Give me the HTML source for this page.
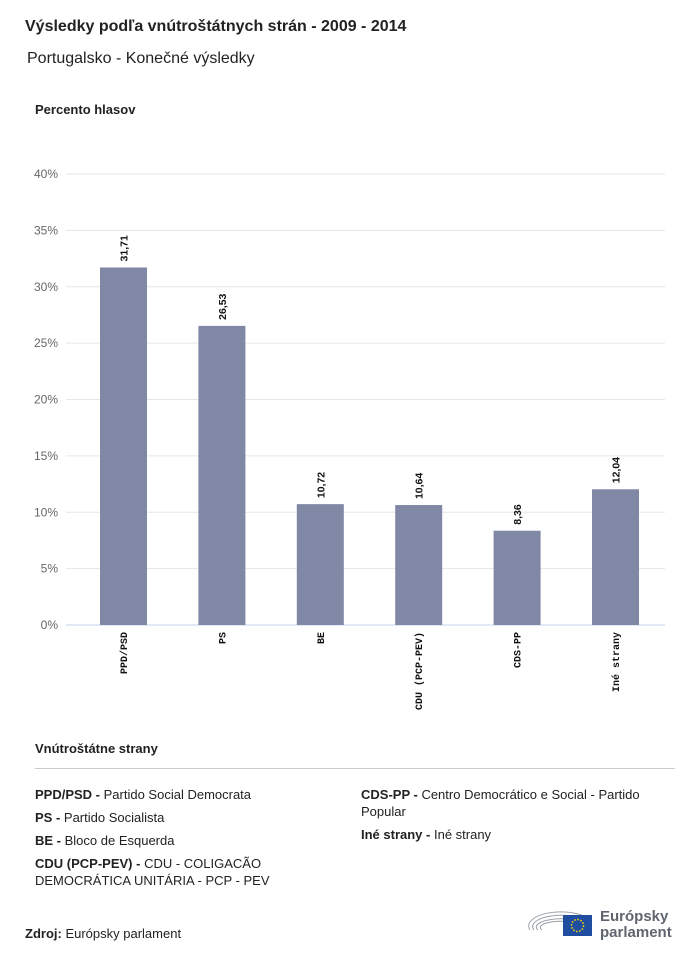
<!DOCTYPE html>
<html><head><meta charset="utf-8"><style>
body{margin:0;background:#fff;font-family:"Liberation Sans",sans-serif;color:#222}
.abs{position:absolute}
</style></head><body>
<div style="position:relative;width:700px;height:959px;overflow:hidden">
<div class="abs" style="left:25px;top:18px;font-size:16px;font-weight:bold">Výsledky podľa vnútroštátnych strán - 2009 - 2014</div>
<div class="abs" style="left:27px;top:50px;font-size:16px">Portugalsko - Konečné výsledky</div>
<div class="abs" style="left:35px;top:102px;font-size:13px;font-weight:bold">Percento hlasov</div>
<svg class="abs" style="left:0;top:0" width="700" height="740" id="chart"></svg>
<div class="abs" style="left:35px;top:741px;font-size:13px;font-weight:bold">Vnútroštátne strany</div>
<div class="abs" style="left:35px;top:768px;width:640px;height:1px;background:#ccc"></div>
<div class="abs" style="left:35px;top:786px;width:300px;font-size:13px;line-height:17px">
<div style="margin-bottom:6px"><b>PPD/PSD -</b> Partido Social Democrata</div>
<div style="margin-bottom:6px"><b>PS -</b> Partido Socialista</div>
<div style="margin-bottom:6px"><b>BE -</b> Bloco de Esquerda</div>
<div><b>CDU (PCP-PEV) -</b> CDU - COLIGACÃO DEMOCRÁTICA UNITÁRIA - PCP - PEV</div>
</div>
<div class="abs" style="left:361px;top:786px;width:310px;font-size:13px;line-height:17px">
<div style="margin-bottom:6px"><b>CDS-PP -</b> Centro Democrático e Social - Partido Popular</div>
<div><b>Iné strany -</b> Iné strany</div>
</div>
<div class="abs" style="left:25px;top:926px;font-size:13px"><b>Zdroj:</b> Európsky parlament</div>
<svg class="abs" style="left:528px;top:900px" width="150" height="40">
<g fill="none" stroke="#9aa0a8" stroke-width="1">
<path d="M2 30 A32 14 0 0 1 64 22"/><path d="M6 30 A28 11 0 0 1 60 23"/><path d="M10 30 A24 8 0 0 1 56 24"/><path d="M14 30 A20 6 0 0 1 52 25"/>
</g>
<rect x="35" y="15" width="29" height="21" fill="#1f4ea0"/>
<circle cx="49.5" cy="25.5" r="6" fill="none" stroke="#ffd600" stroke-width="1.5" stroke-dasharray="1.5 1.6"/>
<text x="72" y="21" font-size="15" font-weight="bold" fill="#5f6670" font-family="Liberation Sans">Európsky</text>
<text x="72" y="37" font-size="15" font-weight="bold" fill="#5f6670" font-family="Liberation Sans">parlament</text>
</svg>
</div>
<script>
const categories=["PPD/PSD","PS","BE","CDU (PCP-PEV)","CDS-PP","Iné strany"];
const values=[31.71,26.53,10.72,10.64,8.36,12.04];
const valueLabels=["31,71","26,53","10,72","10,64","8,36","12,04"];
const yTicks=[0,5,10,15,20,25,30,35,40];
const svg=document.getElementById('chart');
const NS="http://www.w3.org/2000/svg";
const y0=625,yTop=174,maxV=40,xL=66,xR=665;
const yScale=v=>y0-(v/maxV)*(y0-yTop);
const step=98.4, bw=47;
const xScale=i=>xL+34+step*i;
function mk(t,a){const e=document.createElementNS(NS,t);for(const k in a)e.setAttribute(k,a[k]);svg.appendChild(e);return e;}
yTicks.forEach(t=>{
 const y=yScale(t);
 const l=mk('line',{x1:xL,x2:xR,y1:y,y2:y,stroke:t===0?'#c5d3ea':'#e6e6e6','stroke-width':1});
 
 
 const tx=mk('text',{x:58,y:y+4,'text-anchor':'end','font-size':12,fill:'#666','font-family':'Liberation Sans'});
 tx.textContent=t+'%';
 
 
});
categories.forEach((c,i)=>{
 const x=xScale(i),y=yScale(values[i]);
 const r=mk('rect',{x:x,y:y,width:bw,height:y0-y,fill:'#8088a5'});
 
 
 const cx=x+bw/2;
 const v=mk('text',{transform:`translate(${cx+4},${y-6}) rotate(-90)`,'font-size':10.5,'font-weight':'bold',fill:'#111','font-family':'Liberation Sans'});
 v.textContent=valueLabels[i];
 
 
 const cl=mk('text',{transform:`translate(${cx+3.5},${632}) rotate(-90)`,'text-anchor':'end','font-size':10,'font-weight':'bold',fill:'#111','font-family':'Liberation Mono'});
 cl.textContent=c;
 
 
});
</script>
</body></html>
